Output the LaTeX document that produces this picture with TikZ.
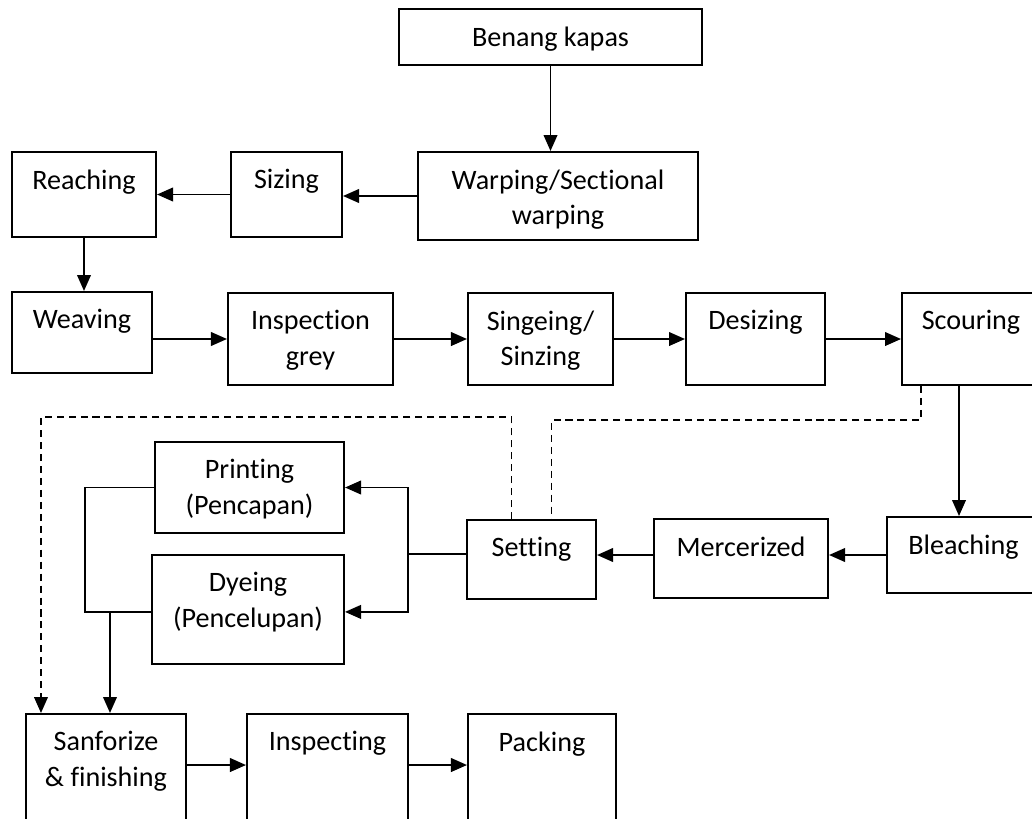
\documentclass[tikz,border=0pt]{standalone}
\usepackage{fontspec}
\setmainfont{Carlito}[Ligatures=NoCommon]
\usetikzlibrary{arrows.meta}

\begin{document}
\begin{tikzpicture}[x=0.025cm, y=-0.025cm, ->, >={Triangle[length=0.4cm, width=0.34cm]}, line width=1.4pt, font=\fontsize{20}{25}\selectfont]
	\tikzset{
		box/.style={draw=black, rectangle, inner sep=0pt},
		txt/.style={anchor=north, inner sep=0pt, yshift=-0.44cm, align=center},
		flowdash/.style={dash pattern=on 5pt off 3.5pt}
	}
	\useasboundingbox (0,0) rectangle (1032,818);

	\node[box, minimum width=7.575cm, minimum height=1.4cm, label={[txt]north:Benang kapas}] at (550.5, 37) (benang) {};
	\node[box, minimum width=7cm, minimum height=2.2cm, label={[txt]north:{Warping/Sectional\\warping}}] at (558, 196) (warping) {};
	\node[box, minimum width=2.775cm, minimum height=2.125cm, label={[txt]north:Sizing}] at (286.5, 194.5) (sizing) {};
	\node[box, minimum width=3.6cm, minimum height=2.125cm, label={[txt]north:Reaching}] at (84, 194.5) (reaching) {};

	\node[box, minimum width=3.5cm, minimum height=2.025cm, label={[txt]north:Weaving}] at (82, 332.5) (weaving) {};
	\node[box, minimum width=4.125cm, minimum height=2.3cm, label={[txt]north:{Inspection\\grey}}] at (310.5, 339) (inspgrey) {};
	\node[box, minimum width=3.625cm, minimum height=2.3cm, label={[txt]north:{Singeing/\\Sinzing}}] at (540.5, 339) (singeing) {};
	\node[box, minimum width=3.475cm, minimum height=2.3cm, label={[txt]north:Desizing}] at (755.5, 339) (desizing) {};
	\node[box, minimum width=3.45cm, minimum height=2.3cm, label={[txt]north:Scouring}] at (971, 339) (scouring) {};

	\node[box, minimum width=3.825cm, minimum height=1.9cm, label={[txt]north:Bleaching}] at (963.5, 555) (bleaching) {};
	\node[box, minimum width=4.35cm, minimum height=1.975cm, label={[txt]north:Mercerized}] at (741, 558.5) (mercerized) {};
	\node[box, minimum width=3.225cm, minimum height=1.975cm, label={[txt]north:Setting}] at (531.5, 559.5) (setting) {};
	\node[box, minimum width=4.725cm, minimum height=2.275cm, label={[txt]north:{Printing\\(Pencapan)}}] at (249.5, 487.5) (printing) {};
	\node[box, minimum width=4.8cm, minimum height=2.725cm, label={[txt]north:{Dyeing\\(Pencelupan)}}] at (248, 609.5) (dyeing) {};

	\node[box, minimum width=4cm, minimum height=2.9cm, label={[txt]north:{Sanforize\\\& finishing}}] at (106, 772) (sanforize) {};
	\node[box, minimum width=4.025cm, minimum height=2.9cm, label={[txt]north:Inspecting}] at (327.5, 772) (inspecting) {};
	\node[box, minimum width=3.7cm, minimum height=2.9cm, label={[txt]north:Packing}] at (542, 772) (packing) {};

	\coordinate (down) at (959, 385);
	\coordinate (fork) at (408, 554);
	\coordinate (merge) at (85, 612);
	\coordinate (drop) at (110, 612);

	% main line
	\draw (benang.south) -- (benang.south |- warping.north);
	\draw (warping.west) -- (warping.west -| sizing.east);
	\draw (sizing.west) -- (reaching.east);
	\draw (reaching.south) -- (reaching.south |- weaving.north);
	\draw (weaving.east |- inspgrey.west) -- (inspgrey.west);
	\draw (inspgrey.east) -- (singeing.west);
	\draw (singeing.east) -- (desizing.west);
	\draw (desizing.east) -- (scouring.west);
	\draw (down) -- (down |- bleaching.north);
	\draw (bleaching.west) -- (bleaching.west -| mercerized.east);
	\draw (mercerized.west |- bleaching.west) -- (setting.east |- bleaching.west);

	% printing or dyeing
	\draw[-] (setting.west |- fork) -- (fork);
	\draw (fork) |- (printing.east);
	\draw (fork) |- ([yshift=-0.06cm]dyeing.east);
	\draw[-] (printing.west) -| (merge) -- (merge -| dyeing.west);
	\draw (drop) -- (drop |- sanforize.north);

	% skip lines
	\draw[flowdash, -] ([xshift=-1.25cm]scouring.south) -- ++(0, 34) -| ([xshift=0.5cm]setting.north);
	\draw[flowdash] ([xshift=-0.5cm]setting.north) -- ++(0, -102) -| ([xshift=-1.625cm]sanforize.north);

	\draw (sanforize.east |- 0, 765) -- (inspecting.west |- 0, 765);
	\draw (inspecting.east |- 0, 765) -- (packing.west |- 0, 765);
\end{tikzpicture}
\end{document}
